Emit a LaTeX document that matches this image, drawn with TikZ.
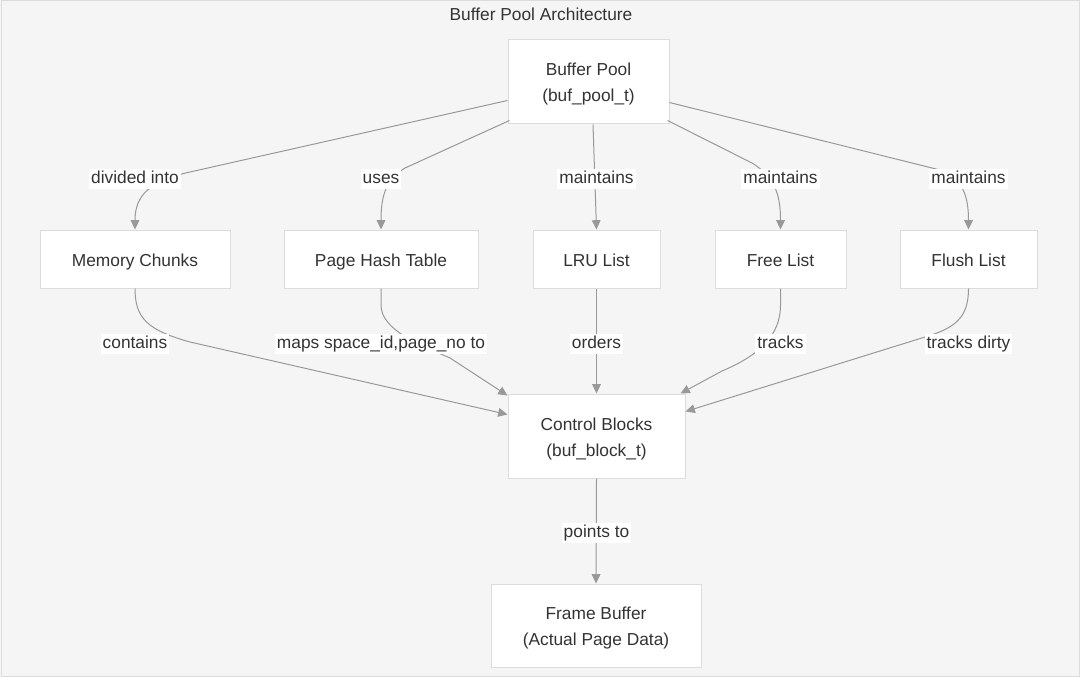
\documentclass[tikz,border=0pt]{standalone}
\usepackage{fontspec}
\setmainfont{Liberation Sans}
\usetikzlibrary{arrows.meta,calc}
\definecolor{bg}{HTML}{F5F5F5}
\definecolor{bd}{HTML}{DCDCDC}
\definecolor{tx}{HTML}{333333}
\definecolor{ln}{HTML}{999999}
\newcommand{\lw}[1]{\raisebox{-2pt}[9.5pt][3pt]{#1}}
\begin{document}
\begin{tikzpicture}[x=0.75pt,y=-0.75pt,
  box/.style={draw=bd, fill=white, line width=0.75pt, text=tx, inner sep=0pt,
    font=\fontsize{13}{19.5}\selectfont, align=center},
  lbl/.style={fill=white, text=tx, inner sep=1.5pt, text height=9.5pt, text depth=3pt, font=\fontsize{13}{15}\selectfont},
  edge/.style={draw=ln, line width=0.75pt, -{Triangle[length=7pt,width=6.5pt]}}]
\fill[bg] (0,0) rectangle (1080,677);
\draw[bd, line width=0.75pt] (1,1) rectangle (1079,676);
\useasboundingbox (0,0) rectangle (1080,677);

\node[text=tx, font=\fontsize{13}{15}\selectfont] (title) at (541,14) {Buffer Pool Architecture};

\node[box, minimum width=120.75pt, minimum height=63pt] (bp) at (588.5,82) {\lw{Buffer Pool}\\\lw{(buf\_pool\_t)}};
\node[box, minimum width=142.5pt, minimum height=43.5pt] (mc) at (135,259) {\lw{Memory Chunks}};
\node[box, minimum width=145.5pt, minimum height=43.5pt] (ph) at (381,259) {\lw{Page Hash Table}};
\node[box, minimum width=95.25pt, minimum height=43.5pt] (lru) at (596.5,259) {\lw{LRU List}};
\node[box, minimum width=98.25pt, minimum height=43.5pt] (fr) at (780.5,259) {\lw{Free List}};
\node[box, minimum width=102.75pt, minimum height=43.5pt] (fu) at (968.5,259) {\lw{Flush List}};
\node[box, minimum width=132.75pt, minimum height=63pt] (cb) at (596.5,436) {\lw{Control Blocks}\\\lw{(buf\_block\_t)}};
\node[box, minimum width=157.5pt, minimum height=62.25pt] (fb) at (596,625.5) {\lw{Frame Buffer}\\\lw{(Actual Page Data)}};

% top edges
\draw[edge] ($(bp.south west)+(0,-24)$) -- (190,172) .. controls (150,181) and (135,195) .. (mc.north);
\draw[edge] ($(bp.south west)+(2,-4)$) -- (405,168) .. controls (386,180) and (381,195) .. (ph.north);
\draw[edge] ($(bp.south)+(4.5,0)$) -- (lru.north);
\draw[edge] ($(bp.south east)+(-2,-4)$) -- (752,163) .. controls (775,177) and (780.5,195) .. (fr.north);
\draw[edge] ($(bp.south east)+(0,-22)$) -- (940,170) .. controls (962,178) and (968.5,195) .. (fu.north);

% bottom edges
\draw[edge] (mc.south) .. controls (135,318) and (147,330) .. (190,342) -- ($(cb.north west)+(0,21)$);
\draw[edge] (ph.south) -- (381,305) .. controls (381,330) and (420,345) .. (450,358) -- ($(cb.north west)+(0,2)$);
\draw[edge] (lru.south) -- (cb.north);
\draw[edge] (fr.south) -- (780.5,305) .. controls (780.5,335) and (760,355) .. (722,371) -- ($(cb.north east)+(-5,0)$);
\draw[edge] (fu.south) .. controls (968.5,318) and (955,328) .. (925,337) -- ($(cb.north east)+(0,18)$);
\draw[edge] (cb.south) -- (fb.north);

% labels
\node[lbl] (l1) at (135,179) {divided into};
\node[lbl] (l2) at (381,179) {uses};
\node[lbl] (l3) at (596.5,179) {maintains};
\node[lbl] (l4) at (780.5,179) {maintains};
\node[lbl] (l5) at (968.5,179) {maintains};
\node[lbl] (l6) at (135,344) {contains};
\node[lbl] (l7) at (381,344) {maps space\_id,page\_no to};
\node[lbl] (l8) at (596.5,344) {orders};
\node[lbl] (l9) at (780.5,344) {tracks};
\node[lbl] (l10) at (968.5,344) {tracks dirty};
\node[lbl] (l11) at (596.5,533) {points to};
\end{tikzpicture}
\end{document}
